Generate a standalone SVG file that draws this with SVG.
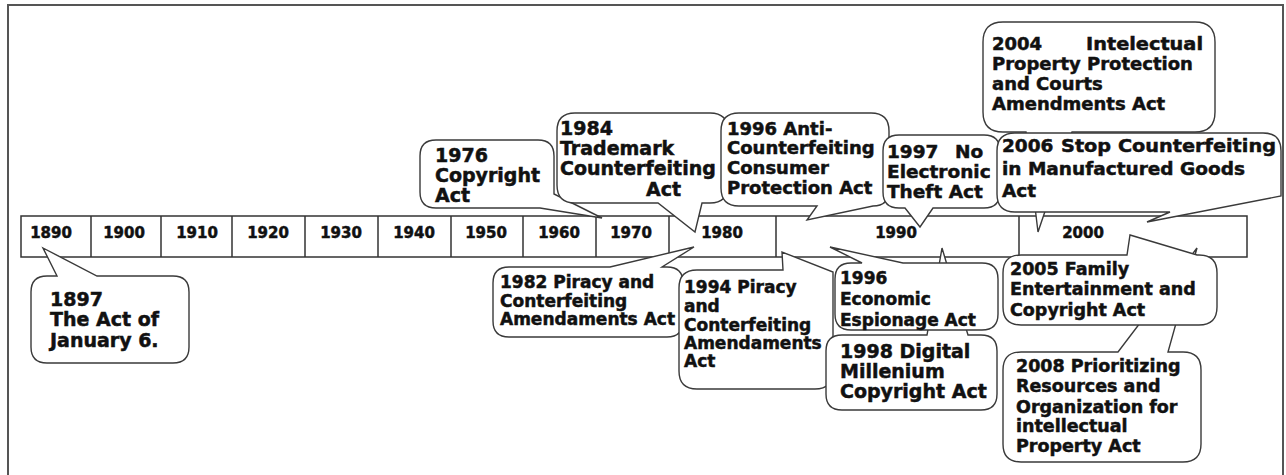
<svg xmlns="http://www.w3.org/2000/svg" width="1286" height="475" viewBox="0 0 1286 475">
<style>
.frame{fill:none;stroke:#555;stroke-width:2}
.cell{fill:#fff;stroke:#333;stroke-width:1.5}
.b{fill:#fff;stroke:#3a3a3a;stroke-width:1.4;stroke-linejoin:miter}
.y{font-family:"DejaVu Sans","Liberation Sans",sans-serif;font-weight:bold;font-size:15px;fill:#111;stroke:#111;stroke-width:0.5;text-anchor:middle}
.t{font-family:"DejaVu Sans","Liberation Sans",sans-serif;font-weight:bold;fill:#111;stroke:#111;stroke-width:0.5}
</style>
<rect x="0" y="0" width="1286" height="475" fill="#fff"/>
<path class="frame" d="M8,475 V5 H1283 V475"/>
<g id="timeline">
<rect class="cell" x="21" y="216" width="1226" height="41"/>
<path class="cell" d="M91,216V257M161,216V257M232,216V257M305,216V257M378,216V257M451,216V257M523,216V257M596,216V257M669,216V257M776,216V257M1019,216V257"/>
<text class="y" x="51" y="238">1890</text>
<text class="y" x="124" y="238">1900</text>
<text class="y" x="197" y="238">1910</text>
<text class="y" x="268" y="238">1920</text>
<text class="y" x="341" y="238">1930</text>
<text class="y" x="414" y="238">1940</text>
<text class="y" x="486" y="238">1950</text>
<text class="y" x="559" y="238">1960</text>
<text class="y" x="631" y="238">1970</text>
<text class="y" x="722" y="238">1980</text>
<text class="y" x="896" y="238">1990</text>
<text class="y" x="1083" y="238">2000</text>
</g>
<g id="n1897">
<path class="b" d="M47,276 L57,276 L43,248 L97,276 L173,276 Q189,276 189,292 L189,347 Q189,363 173,363 L47,363 Q31,363 31,347 L31,292 Q31,276 47,276 Z"/>
<text class="t" font-size="19"><tspan x="50" y="306">1897</tspan><tspan x="50" y="326">The Act of</tspan><tspan x="50" y="347">January 6.</tspan></text>
</g>
<g id="n1976">
<path class="b" d="M436,140 L538,140 Q554,140 554,156 L554,194 L602,218 L540,208 L436,208 Q420,208 420,192 L420,156 Q420,140 436,140 Z"/>
<text class="t" font-size="19"><tspan x="435" y="162">1976</tspan><tspan x="435" y="182">Copyright</tspan><tspan x="435" y="202">Act</tspan></text>
</g>
<g id="n1984">
<path class="b" d="M575,113 L710,113 Q728,113 728,131 L728,185 Q728,203 710,203 L702,203 L695,232 L658,203 L575,203 Q557,203 557,185 L557,131 Q557,113 575,113 Z"/>
<text class="t" font-size="19"><tspan x="560" y="135">1984</tspan><tspan x="560" y="155">Trademark</tspan><tspan x="560" y="175">Counterfeiting</tspan><tspan x="646" y="196">Act</tspan></text>
</g>
<g id="n1996a">
<path class="b" d="M739,113 L871,113 Q889,113 889,131 L889,190 Q889,206 873,206 L807,220 L817,206 L739,206 Q721,206 721,188 L721,131 Q721,113 739,113 Z"/>
<text class="t" font-size="18"><tspan x="727" y="135">1996 Anti-</tspan><tspan x="727" y="154">Counterfeiting</tspan><tspan x="727" y="174">Consumer</tspan><tspan x="727" y="194">Protection Act</tspan></text>
</g>
<g id="n1997">
<path class="b" d="M899,135 L984,135 Q1000,135 1000,151 L1000,192 Q1000,208 984,208 L933,208 L920,227 L905,208 L899,208 Q883,208 883,192 L883,151 Q883,135 899,135 Z"/>
<text class="t" font-size="18.5"><tspan x="887" y="158">1997</tspan><tspan x="955" y="158">No</tspan><tspan x="887" y="178">Electronic</tspan><tspan x="887" y="198">Theft Act</tspan></text>
</g>
<g id="n2004">
<path class="b" d="M1003,22 L1195,22 Q1215,22 1215,42 L1215,112 Q1215,132 1195,132 L1072,132 L1038,232 L1026,132 L1003,132 Q983,132 983,112 L983,42 Q983,22 1003,22 Z"/>
<text class="t" font-size="18"><tspan x="992" y="50">2004</tspan><tspan x="1086" y="50" textLength="117" lengthAdjust="spacingAndGlyphs">Intelectual</tspan><tspan x="992" y="70">Property Protection</tspan><tspan x="992" y="90">and Courts</tspan><tspan x="992" y="110">Amendments Act</tspan></text>
</g>
<g id="n2006">
<path class="b" d="M1015,133 L1263,133 Q1281,133 1281,151 L1281,196 L1147,222 L1170,212 L1015,212 Q997,212 997,194 L997,151 Q997,133 1015,133 Z"/>
<text class="t" font-size="18.5"><tspan x="1002" y="152">2006</tspan><tspan x="1061" y="152" textLength="215" lengthAdjust="spacingAndGlyphs">Stop Counterfeiting</tspan><tspan x="1002" y="175">in Manufactured Goods</tspan><tspan x="1002" y="197">Act</tspan></text>
</g>
<g id="n1982">
<path class="b" d="M509,267 L610,267 L694,247 L662,267 L667,267 Q683,267 683,283 L683,321 Q683,337 667,337 L509,337 Q493,337 493,321 L493,283 Q493,267 509,267 Z"/>
<text class="t" font-size="17"><tspan x="500" y="288">1982 Piracy and</tspan><tspan x="500" y="307">Conterfeiting</tspan><tspan x="500" y="325">Amendaments Act</tspan></text>
</g>
<g id="n1994">
<path class="b" d="M697,270 L783,270 L782,252 L833,272 L833,371 Q833,389 815,389 L697,389 Q679,389 679,371 L679,288 Q679,270 697,270 Z"/>
<text class="t" font-size="17"><tspan x="684" y="293">1994 Piracy</tspan><tspan x="684" y="312">and</tspan><tspan x="684" y="331">Conterfeiting</tspan><tspan x="684" y="349">Amendaments</tspan><tspan x="684" y="367">Act</tspan></text>
</g>
<g id="n1998">
<path class="b" d="M842,335 L927,335 L942,248 L968,335 L981,335 Q997,335 997,351 L997,394 Q997,410 981,410 L842,410 Q826,410 826,394 L826,351 Q826,335 842,335 Z"/>
<text class="t" font-size="19"><tspan x="840" y="358">1998 Digital</tspan><tspan x="840" y="378">Millenium</tspan><tspan x="840" y="398">Copyright Act</tspan></text>
</g>
<g id="n1996e">
<path class="b" d="M851,263 L862,263 L830,247 L903,263 L982,263 Q998,263 998,279 L998,314 Q998,330 982,330 L851,330 Q835,330 835,314 L835,279 Q835,263 851,263 Z"/>
<text class="t" font-size="17"><tspan x="840" y="284">1996</tspan><tspan x="840" y="305">Economic</tspan><tspan x="840" y="326">Espionage Act</tspan></text>
</g>
<g id="n2008">
<path class="b" d="M1021,352 L1118,352 L1197,248 L1168,352 L1183,352 Q1201,352 1201,370 L1201,444 Q1201,462 1183,462 L1021,462 Q1003,462 1003,444 L1003,370 Q1003,352 1021,352 Z"/>
<text class="t" font-size="17.5"><tspan x="1016" y="372">2008 Prioritizing</tspan><tspan x="1016" y="392">Resources and</tspan><tspan x="1016" y="413">Organization for</tspan><tspan x="1016" y="432">intellectual</tspan><tspan x="1016" y="452">Property Act</tspan></text>
</g>
<g id="n2005">
<path class="b" d="M1021,255 L1127,255 L1130,235 L1197,255 L1199,255 Q1217,255 1217,273 L1217,307 Q1217,325 1199,325 L1021,325 Q1003,325 1003,307 L1003,273 Q1003,255 1021,255 Z"/>
<text class="t" font-size="17.5"><tspan x="1010" y="275">2005 Family</tspan><tspan x="1010" y="295">Entertainment and</tspan><tspan x="1010" y="316">Copyright Act</tspan></text>
</g>
</svg>
